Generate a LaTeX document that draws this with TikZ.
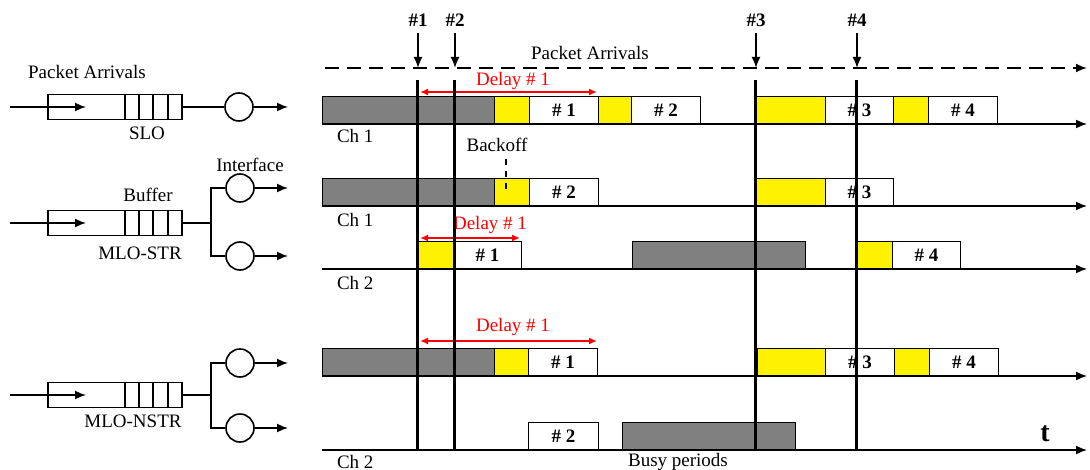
\documentclass[tikz,border=0pt]{standalone}
\usepackage{fontspec}
\setmainfont{Liberation Serif}
\usepackage{tikz}
\usetikzlibrary{calc,shapes,arrows.meta}

\tikzset{
  pktslot/.style={draw, fill=white, minimum height=13.5pt, inner sep=0pt,
    anchor=south west, font=\fontsize{9.5}{11}\selectfont\bfseries},
  busyslot/.style={pktslot, fill=gray},
  waitslot/.style={pktslot, fill=yellow},
  queue/.style={draw, line width=0.8pt, minimum width=67pt, minimum height=12.5pt, inner sep=0pt},
  iface/.style={draw, circle, line width=0.8pt, minimum size=14pt, inner sep=0pt},
  timeaxis/.style={->, line width=0.8pt},
  marker/.style={line width=1.5pt},
  delay/.style={{Latex[length=4pt,width=3.5pt]}-{Latex[length=4pt,width=3.5pt]}, red, line width=0.8pt},
}

\begin{document}
\begin{tikzpicture}[x=0.5pt, y=-0.5pt, >={Latex[length=5.5pt,width=4.5pt]},
    font=\fontsize{9.5}{11}\selectfont]
      \useasboundingbox (0,0) rectangle (1090,470);

      % left side: queues and interfaces
      \node (pa) at (87,72) {Packet Arrivals};
      \node[queue] (qslo) at (115,107) {};
      \node[iface] (cslo) at (239,107) {};
      \node (slo) at (147,133) {SLO};
      \coordinate (inslo) at (10,107);
      \coordinate (tipslo) at (86,107);
      \coordinate (outslo) at (288,107);

      \node (ifl) at (250,165) {Interface};
      \node (buf) at (148,195) {Buffer};
      \node[queue] (qstr) at (115,223) {};
      \node[iface] (cstra) at (240,188) {};
      \node[iface] (cstrb) at (240,256) {};
      \node (str) at (140,253) {MLO-STR};
      \coordinate (instr) at (10,223);
      \coordinate (tipstr) at (86,223);
      \coordinate (bstr) at (211,223);
      \coordinate (outstra) at (288,188);
      \coordinate (outstrb) at (288,256);

      \node[queue] (qnstr) at (115,395) {};
      \node[iface] (cnstra) at (240,363) {};
      \node[iface] (cnstrb) at (240,428) {};
      \node (nstr) at (133,421) {MLO-NSTR};
      \coordinate (innstr) at (10,395);
      \coordinate (tipnstr) at (86,395);
      \coordinate (bnstr) at (211,395);
      \coordinate (outnstra) at (288,363);
      \coordinate (outnstrb) at (288,428);

      \foreach \q in {107,223,395}
        \foreach \c in {125,139,153,168}
          \draw[line width=0.8pt] (\c,\q-12.5) -- (\c,\q+12.5);

      \draw[->, line width=0.8pt] (inslo) -- (tipslo);
      \draw[->, line width=0.8pt] (instr) -- (tipstr);
      \draw[->, line width=0.8pt] (innstr) -- (tipnstr);
      \draw[line width=0.8pt] (qslo.east) -- (cslo.west);
      \draw[line width=0.8pt] (qstr.east) -- (bstr);
      \draw[line width=0.8pt] (cstra.west) -| (bstr) |- (cstrb.west);
      \draw[line width=0.8pt] (qnstr.east) -- (bnstr);
      \draw[line width=0.8pt] (cnstra.west) -| (bnstr) |- (cnstrb.west);
      \path[->, line width=0.8pt] (cslo) edge (outslo) (cstra) edge (outstra)
      (cstrb) edge (outstrb) (cnstra) edge (outnstra) (cnstrb) edge (outnstrb);

      % packet arrivals
      \node (arr) at (590,53) {Packet Arrivals};
      \coordinate (dstart) at (325,68);
      \coordinate (dend) at (1087,68);
      \draw[->, dash pattern=on 7pt off 4pt, line width=0.9pt] (dstart) -- (dend);
      \foreach \n/\x in {1/418,2/455,3/756,4/857} {
        \node[font=\fontsize{9.5}{11}\selectfont\bfseries] (h\n) at (\x,20) {\#\n};
        \coordinate (a\n) at (\x,68);
        \draw[->, line width=0.9pt] (h\n) -- (a\n);
      }

      % SLO, channel 1
      \foreach \xa/\w/\s/\t [count=\i] in {322/86/busyslot/, 494/17.5/waitslot/,
          529/34.5/pktslot/\# 1, 598/16.5/waitslot/, 631/34.5/pktslot/\# 2,
          756/34.5/waitslot/, 825/34/pktslot/\# 3, 893/17.5/waitslot/, 928/34.5/pktslot/\# 4}
        \node[\s, minimum width=\w pt] (s\i) at (\xa,124) {\t};
      \node[anchor=west] (ch1a) at (330,136) {Ch 1};

      % MLO-STR, channels 1 and 2
      \foreach \xa/\w/\s/\t [count=\i] in {322/86/busyslot/, 494/17.5/waitslot/,
          529/34.5/pktslot/\# 2, 756/34.5/waitslot/, 825/34/pktslot/\# 3}
        \node[\s, minimum width=\w pt] (r\i) at (\xa,206) {\t};
      \node[anchor=west] (ch1b) at (330,220) {Ch 1};
      \foreach \xa/\w/\s/\t [count=\i] in {418/17.5/waitslot/, 453/34/pktslot/\# 1,
          632/86.5/busyslot/, 857/17.5/waitslot/, 892/34/pktslot/\# 4}
        \node[\s, minimum width=\w pt] (u\i) at (\xa,269) {\t};
      \node[anchor=west] (ch2b) at (330,283) {Ch 2};

      \node (bo) at (497,145) {Backoff};
      \coordinate (bk) at (506,190);
      \draw[dashed, line width=0.8pt] (bk |- bo.south) -- (bk);

      % MLO-NSTR, channels 1 and 2
      \foreach \xa/\w/\s/\t [count=\i] in {322/86/busyslot/, 494/17/waitslot/,
          528/34.5/pktslot/\# 1, 757/34/waitslot/, 825/34.5/pktslot/\# 3,
          894/17.5/waitslot/, 929/34.5/pktslot/\# 4}
        \node[\s, minimum width=\w pt] (v\i) at (\xa,376) {\t};
      \foreach \xa/\w/\s/\t [count=\i] in {528/35/pktslot/\# 2, 622/86.5/busyslot/}
        \node[\s, minimum width=\w pt] (w\i) at (\xa,450) {\t};
      \node[anchor=west] (ch2c) at (330,462) {Ch 2};
      \node (busy) at (678,462) {Busy periods};
      \node[font=\fontsize{14}{16}\selectfont\bfseries] (t) at (1045,434) {t};

      % time axes
      \foreach \y [count=\i] in {124,206,269,376,450} {
        \coordinate (ax\i) at (322,\y);
        \coordinate (ae\i) at (1087,\y);
        \draw[timeaxis] (ax\i) -- (ae\i);
      }

      % delays
      \node[red] (d1) at (513,81) {Delay \# 1};
      \node[red] (d2) at (490,225) {Delay \# 1};
      \node[red] (d3) at (513,327) {Delay \# 1};
      \draw[delay] (420,92) coordinate (da1) -- (597,92) coordinate (db1);
      \draw[delay] (420,238) coordinate (da2) -- (520,238) coordinate (db2);
      \draw[delay] (420,341) coordinate (da3) -- (597,341) coordinate (db3);

      % arrival instants
      \foreach \n/\x in {1/417,2/454,3/755,4/856} {
        \coordinate (mt\n) at (\x,80);
        \coordinate (mb\n) at (\x,450);
        \draw[marker] (mt\n) -- (mb\n);
      }
    \end{tikzpicture}
\end{document}
